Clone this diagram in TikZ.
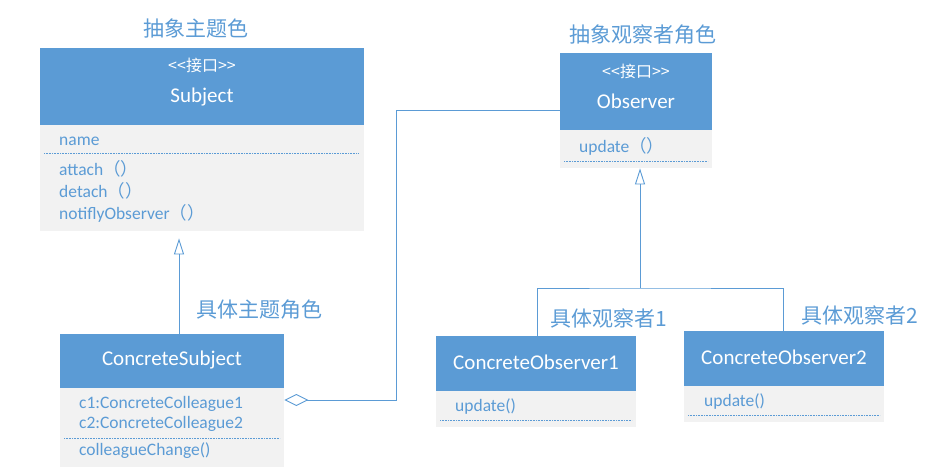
\documentclass[tikz,border=0pt]{standalone}
\usepackage{fontspec}
\setmainfont{Carlito}
\newfontfamily\cjk{Noto Sans CJK SC}
\usetikzlibrary{arrows.meta, positioning}
\definecolor{umlblue}{HTML}{5B9BD5}
\definecolor{umlgray}{HTML}{F2F2F2}
\tikzset{
  hdr/.style={fill=umlblue, inner sep=0pt, anchor=north west},
  membox/.style={fill=umlgray, inner sep=0pt, anchor=north west},
  hdrtext/.style={text=white, font=\fontsize{21}{21}\selectfont, inner sep=0pt},
  stereo/.style={text=white, font=\cjk\fontsize{16}{16}\selectfont, inner sep=0pt},
  member/.style={text=umlblue, font=\fontsize{17.5}{17.5}\selectfont, anchor=west, inner sep=0pt},
  role/.style={text=umlblue, font=\cjk\fontsize{21}{21}\selectfont, inner sep=0pt},
  sep/.style={umlblue, densely dotted, line width=0.6pt},
  link/.style={umlblue, line width=0.9pt},
  gen/.style={link, -{Triangle[open, fill=white, length=16pt, width=10pt]}},
}

\begin{document}
\begin{tikzpicture}[x=1pt, y=-1pt]
	\useasboundingbox (0,0) rectangle (947,469);
	% Sujeto abstracto
	\node[role] (tsub) at (196,28) {抽象主题色};
	\node[hdr, minimum width=324pt, minimum height=77pt] (subh) at (40,48) {};
	\node[membox, minimum width=324pt, minimum height=106pt] (subb) at (40,125) {};
	\node[stereo] (subst) at (202,65) {<\kern0pt<接口>\kern0pt>};
	\node[hdrtext] (subn) at (202,97) {Subject};
	\node[member] (subm1) at (59,141) {name};
	\draw[sep] (44,153) -- (359,153);
	\node[member] (subm2) at (59,169) {attach{\cjk （）}};
	\node[member] (subm3) at (59,191) {detach{\cjk （）}};
	\node[member] (subm4) at (59,213) {notiflyObserver{\cjk （）}};
	% Observador abstracto
	\node[role] (tobs) at (643,35) {抽象观察者角色};
	\node[hdr, minimum width=152pt, minimum height=77pt] (obsh) at (560,53) {};
	\node[membox, minimum width=152pt, minimum height=38pt] (obsb) at (560,130) {};
	\node[stereo] (obsst) at (636,71) {<\kern0pt<接口>\kern0pt>};
	\node[hdrtext] (obsn) at (636,101) {Observer};
	\node[member] (obsm1) at (579,146) {update{\cjk （）}};
	\draw[sep] (564,161) -- (708,161);
	% Sujeto concreto
	\node[role] (tcsub) at (259,310) {具体主题角色};
	\node[hdr, minimum width=224pt, minimum height=54pt] (csubh) at (60,334) {};
	\node[membox, minimum width=224pt, minimum height=79pt] (csubb) at (60,388) {};
	\node[hdrtext] (csubn) at (172,360) {ConcreteSubject};
	\node[member] (csubm1) at (79,404) {c1:ConcreteColleague1};
	\node[member] (csubm2) at (79,424) {c2:ConcreteColleague2};
	\draw[sep] (64,438) -- (280,438);
	\node[member] (csubm3) at (79,451) {colleagueChange()};
	% Observadores concretos
	\node[role] (tco1) at (609,318) {具体观察者1};
	\node[hdr, minimum width=200pt, minimum height=55pt] (co1h) at (436,336) {};
	\node[membox, minimum width=200pt, minimum height=36pt] (co1b) at (436,391) {};
	\node[hdrtext] (co1n) at (536,362) {ConcreteObserver1};
	\node[member] (co1m1) at (455,407) {update()};
	\draw[sep] (440,420) -- (632,420);
	\node[role] (tco2) at (860,315) {具体观察者2};
	\node[hdr, minimum width=200pt, minimum height=55pt] (co2h) at (684,331) {};
	\node[membox, minimum width=200pt, minimum height=36pt] (co2b) at (684,386) {};
	\node[hdrtext] (co2n) at (784,357) {ConcreteObserver2};
	\node[member] (co2m1) at (704,402) {update()};
	\draw[sep] (688,415) -- (880,415);
	% Herencia
	\draw[gen, shorten >=7pt] (csubh.north -| 179,0) -- (subb.south -| 179,0);
	\coordinate (ojn) at (640,288);
	\draw[gen] (ojn) -- (obsb.south -| ojn);
	\draw[link] (co1h.north -| 537,0) |- (ojn) -| (co2h.north -| 783,0);
	% Agregacion
	\coordinate (aggbend) at (396,110);
	\draw[link, {Diamond[open, fill=white, length=24pt, width=12pt]}-] (csubb.east |- 0,400) -| (aggbend) -- (obsh.west |- aggbend);
\end{tikzpicture}
\end{document}
